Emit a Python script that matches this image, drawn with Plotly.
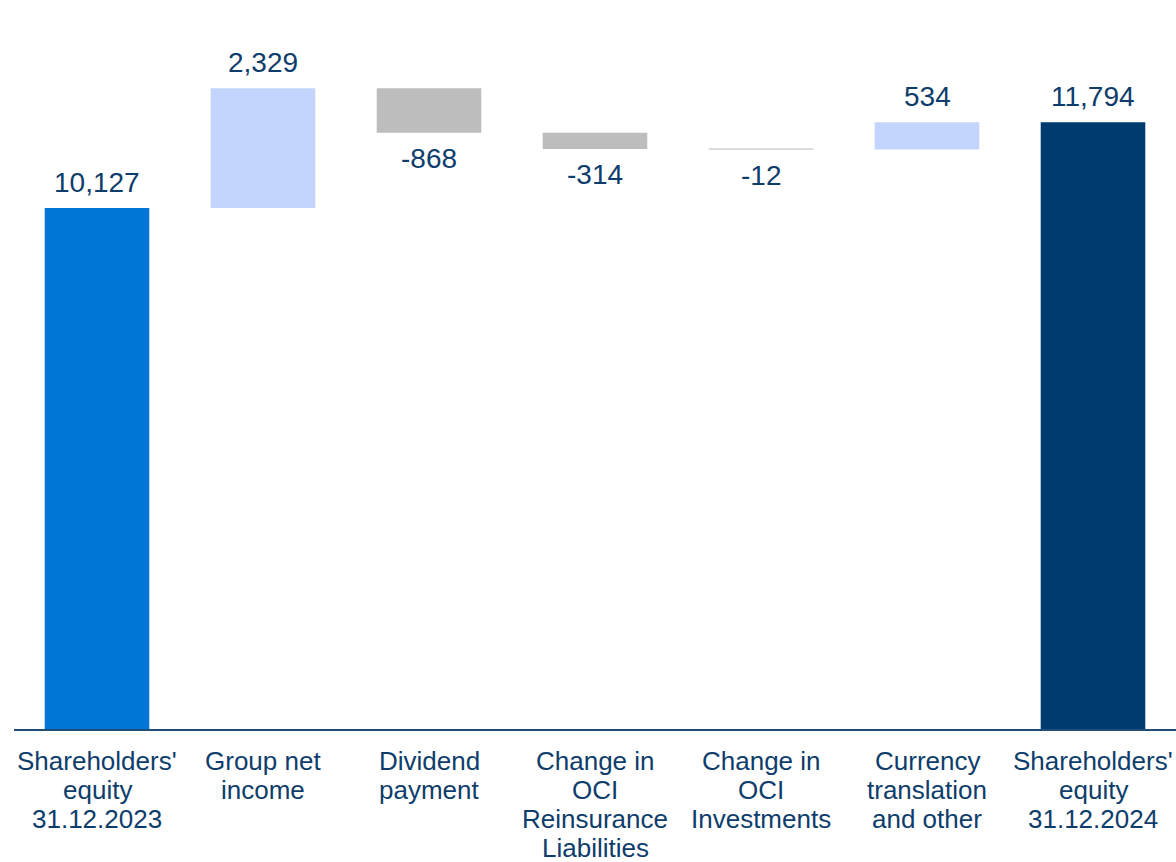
import plotly.graph_objects as go

# ---- data ----
categories = ["Shareholders' equity 31.12.2023", "Group net income", "Dividend payment",
              "Change in OCI Reinsurance Liabilities", "Change in OCI Investments",
              "Currency translation and other", "Shareholders' equity 31.12.2024"]
tick_lines = [["Shareholders'", "equity", "31.12.2023"],
              ["Group net", "income"],
              ["Dividend", "payment"],
              ["Change in", "OCI", "Reinsurance", "Liabilities"],
              ["Change in", "OCI", "Investments"],
              ["Currency", "translation", "and other"],
              ["Shareholders'", "equity", "31.12.2024"]]
measures = ["absolute", "relative", "relative", "relative", "relative", "relative", "total"]
values = [10127, 2329, -868, -314, -12, 534, 11794]

# ---- styles ----
C_START = "#0077D7"
C_UP = "#C4D5FD"
C_DOWN = "#BDBDBD"
C_TINY = "#DCDCDC"
C_END = "#003B6F"
TXT = "#0E3D6C"
FONT = "Liberation Sans, Arial, sans-serif"

bases, heights, colors = [], [], []
running = 0
for m, v in zip(measures, values):
    if m == "absolute":
        bases.append(0); heights.append(v); colors.append(C_START); running = v
    elif m == "total":
        bases.append(0); heights.append(v); colors.append(C_END); running = v
    else:
        bases.append(running); heights.append(v)
        colors.append(C_UP if v > 0 else (C_TINY if abs(v) < 50 else C_DOWN))
        running += v

fig = go.Figure(go.Bar(x=categories, y=heights, base=bases, marker=dict(color=colors, line=dict(width=0)),
                       hoverinfo="skip"))

annotations = []
for c, m, b, h, v in zip(categories, measures, bases, heights, values):
    if v >= 0:
        annotations.append(dict(x=c, y=b + h, xref="x", yref="y", text=f"{v:,}", showarrow=False,
                                yanchor="bottom", yshift=8, font=dict(size=28, color=TXT, family=FONT)))
    else:
        annotations.append(dict(x=c, y=b + h, xref="x", yref="y", text=f"-{abs(v):,}", showarrow=False,
                                yanchor="top", yshift=-8, font=dict(size=28, color=TXT, family=FONT)))
for c, lines in zip(categories, tick_lines):
    for i, ln in enumerate(lines):
        annotations.append(dict(x=c, y=0, xref="x", yref="paper", text=ln, showarrow=False,
                                yanchor="top", yshift=-15 - 29 * i, font=dict(size=26, color=TXT, family=FONT)))

fig.update_layout(
    width=1176, height=862,
    margin=dict(l=14, r=0, t=0, b=133),
    plot_bgcolor="white", paper_bgcolor="white",
    bargap=0.37, showlegend=False,
    annotations=annotations,
    xaxis=dict(showticklabels=False, showline=True, linecolor="#1F4E79", linewidth=2,
               ticks="", showgrid=False, zeroline=False),
    yaxis=dict(range=[0, 14170], visible=False, showgrid=False, zeroline=False),
)

fig.write_html("out.html", config={"displayModeBar": False},
               post_script="document.body.style.margin='0';document.body.style.overflow='hidden';")
